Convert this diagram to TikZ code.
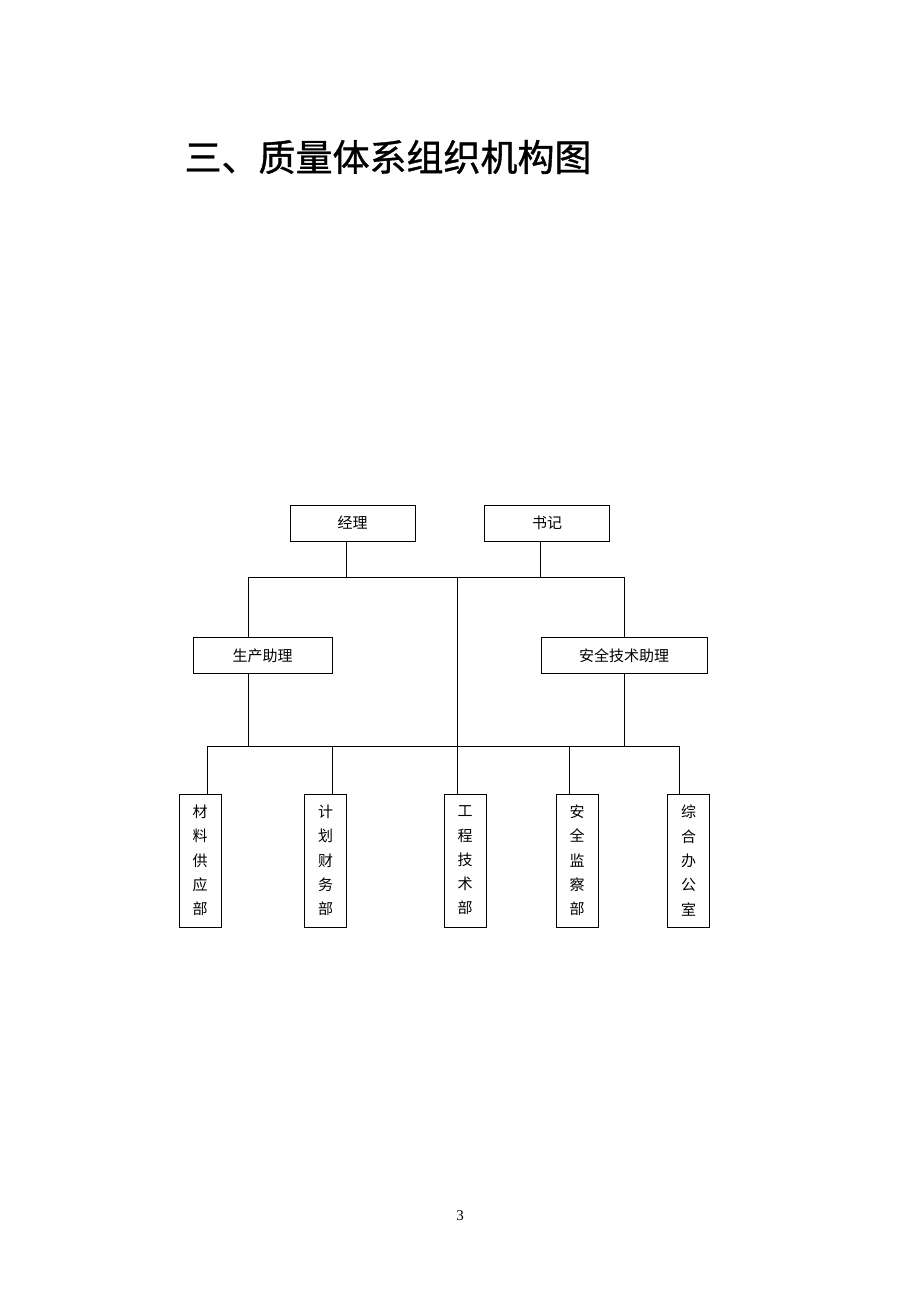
\documentclass[tikz,border=0pt]{standalone}
\usepackage{fontspec}
\setmainfont{Liberation Serif}
\newfontfamily\cjk{Noto Sans CJK SC}
\newfontfamily\cjktitle[FakeBold=1]{Noto Sans CJK SC}

\tikzset{
  box/.style={draw,line width=1pt,minimum height=36pt,inner sep=0pt,font=\cjk\fontsize{15}{18}\selectfont},
  dept/.style={draw,line width=1pt,minimum width=42pt,minimum height=133pt,inner sep=0pt,align=center,font=\cjk\fontsize{15}{24.3}\selectfont},
  link/.style={line width=1pt}
}

\begin{document}
\begin{tikzpicture}[x=1pt,y=-1pt,node distance=0pt]
      \useasboundingbox (0,0) rectangle (920,1302);
      \node[anchor=west,font=\cjktitle\fontsize{37}{40}\selectfont] (title) at (181,157) {三、质量体系组织机构图};

      \node[box,minimum width=125pt] (1) at (352.5,523) {经理};
      \node[box,minimum width=125pt,right of=1,xshift=194.5pt] (2) {书记};
      \node[box,minimum width=139pt] (3) at (262.5,655.5) {生产助理};
      \node[box,minimum width=166pt] (4) at (624,655.5) {安全技术助理};

      \node[dept] (5) at (200,860.5) {材\\料\\供\\应\\部};
      \node[dept,right of=5,xshift=125.5pt] (6) {计\\划\\财\\务\\部};
      \node[dept,right of=6,xshift=139.5pt] (7) {工\\程\\技\\术\\部};
      \node[dept,right of=7,xshift=112pt] (8) {安\\全\\监\\察\\部};
      \node[dept,right of=8,xshift=111.5pt] (9) {综\\合\\办\\公\\室};

      \coordinate (a) at (248,577);
      \coordinate (b) at (624,577);
      \coordinate (m) at (457,577);
      \coordinate (t1) at (346,577);
      \coordinate (t2) at (540,577);
      \coordinate (b1) at (207,746);
      \coordinate (b2) at (332,746);
      \coordinate (b3) at (457,746);
      \coordinate (b4) at (569,746);
      \coordinate (b5) at (679,746);

      \draw[link] (a) -- (b);
      \draw[link] (1.south -| t1) -- (t1);
      \draw[link] (2.south -| t2) -- (t2);
      \draw[link] (a) -- (3.north -| a);
      \draw[link] (b) -- (4.north -| b);
      \draw[link] (3.south -| a) -- (a |- b1);
      \draw[link] (4.south -| b) -- (b |- b1);
      \draw[link] (m) -- (7.north -| m);
      \draw[link] (b1) -- (b5);
      \draw[link] (b1) -- (5.north -| b1);
      \draw[link] (b2) -- (6.north -| b2);
      \draw[link] (b4) -- (8.north -| b4);
      \draw[link] (b5) -- (9.north -| b5);

      \node (page) at (460,1216) {\fontsize{15}{17}\selectfont 3};
    \end{tikzpicture}
\end{document}
